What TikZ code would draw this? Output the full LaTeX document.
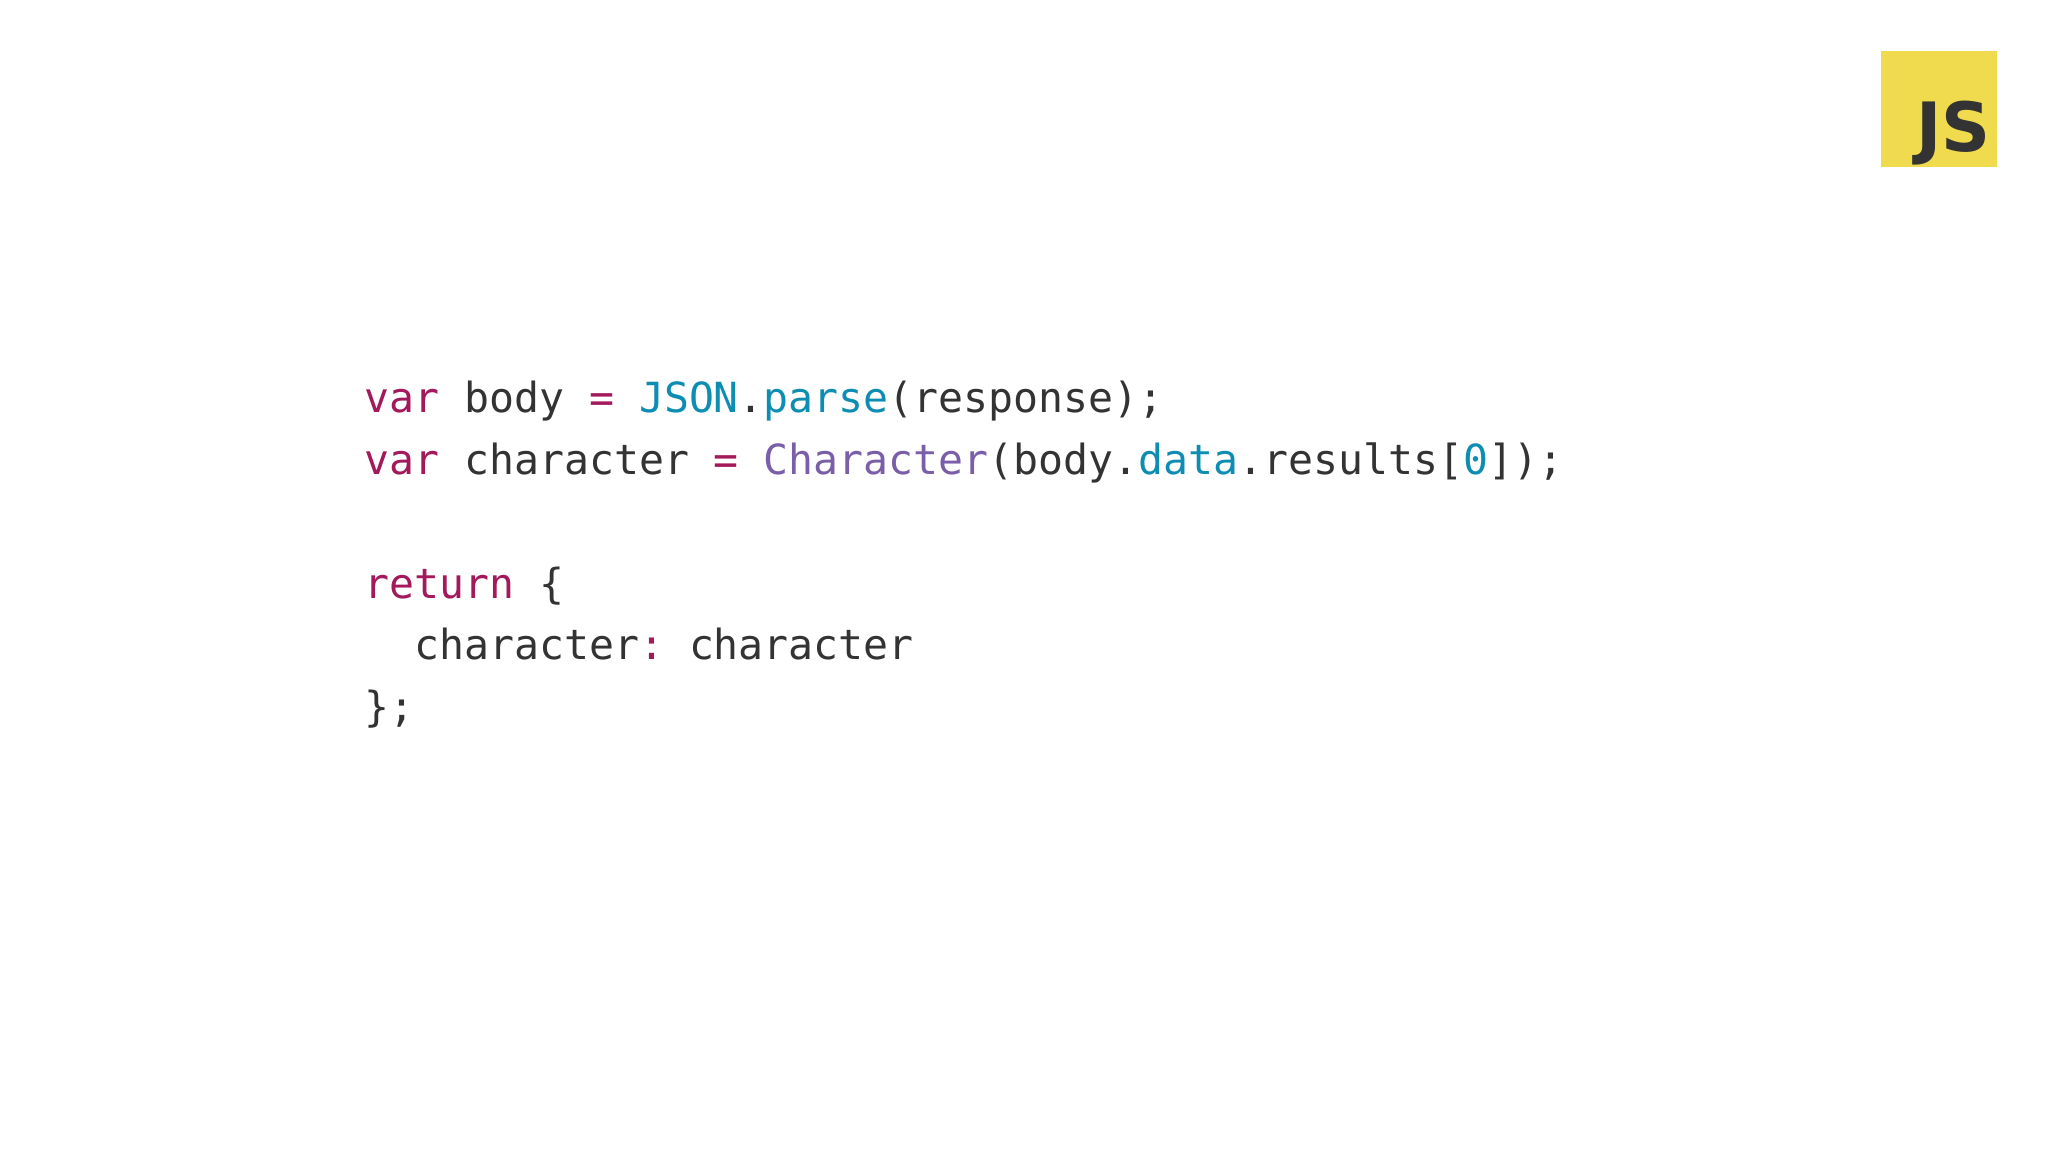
\documentclass[tikz,border=0pt]{standalone}
\usepackage{fontspec}
\setmonofont{DejaVu Sans Mono}
\setsansfont{DejaVu Sans}
\definecolor{kw}{HTML}{A3195B}
\definecolor{fn}{HTML}{0E8DB3}
\definecolor{cl}{HTML}{7A5FA8}
\definecolor{tx}{HTML}{333333}
\definecolor{jsy}{HTML}{F0DB4F}
\begin{document}
\begin{tikzpicture}[x=1pt,y=-1pt,
  code/.style={anchor=base west,inner sep=0,font=\fontsize{41.5}{48}\ttfamily,text=tx}]
\useasboundingbox[fill=white] (0,0) rectangle (2048,1152);
\node[fill=jsy,minimum size=116pt,inner sep=0,anchor=north west] (js) at (1881,51) {};
\node[anchor=south east,inner sep=0,font=\fontsize{68}{68}\sffamily\bfseries,text=tx] (jst) at (1991,165) {JS};
\node[code] (l1) at (364,412) {\textcolor{kw}{var} body \textcolor{kw}{=} \textcolor{fn}{JSON}.\textcolor{fn}{parse}(response);};
\node[code] (l2) at (364,474) {\textcolor{kw}{var} character \textcolor{kw}{=} \textcolor{cl}{Character}(body.\textcolor{fn}{data}.results[\textcolor{fn}{0}]);};
\node[code] (l4) at (364,598) {\textcolor{kw}{return} \{};
\node[code] (l5) at (364,659) {\ \ character\textcolor{kw}{:} character};
\node[code] (l6) at (364,721) {\};};
\end{tikzpicture}
\end{document}
